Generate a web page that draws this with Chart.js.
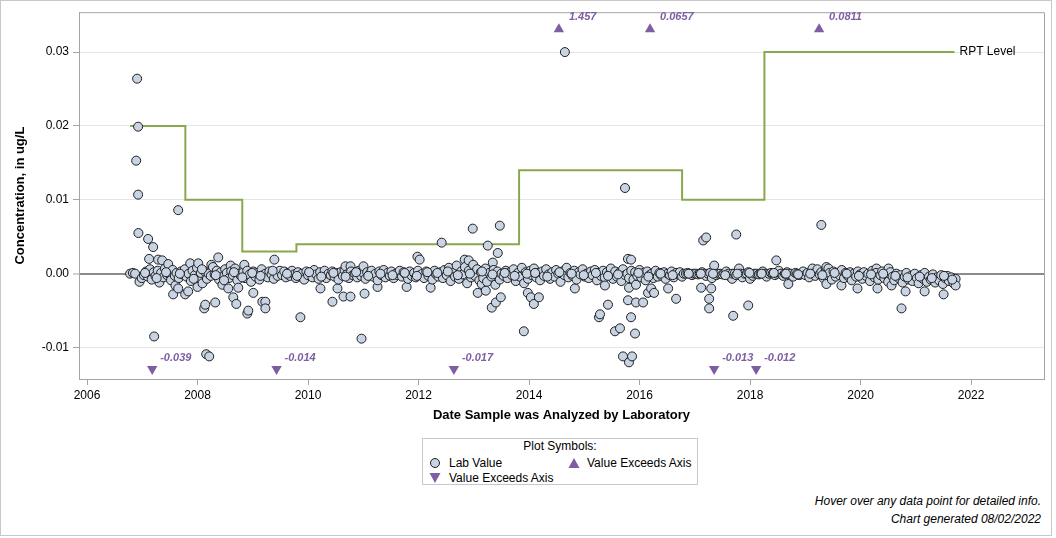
<!DOCTYPE html>
<html>
<head>
<meta charset="utf-8">
<script src="https://cdn.jsdelivr.net/npm/chart.js@4.4.1/dist/chart.umd.min.js"></script>
<style>
  html, body { margin: 0; padding: 0; background: #fff; }
  body { font-family: "Liberation Sans", Arial, sans-serif; color: #000; }
  #frame { position: relative; width: 1052px; height: 536px; border: 1px solid #c8c8c8; box-sizing: border-box; }
  #chart { position: absolute; left: 0; top: 0; }
  #legend { position: absolute; left: 421px; top: 437px; width: 276px; height: 47px; border: 1px solid #c8c8c8; box-sizing: border-box; font-size: 12px; }
  #legend .title { position: absolute; left: 0; right: 0; top: 0; line-height: 14px; text-align: center; }
  #legend .sym { position: absolute; }
  #legend .txt { position: absolute; line-height: 14px; white-space: nowrap; }
  #note { position: absolute; right: 10px; top: 491px; font-size: 12px; font-style: italic; line-height: 18px; text-align: right; }
</style>
</head>
<body>
<div id="frame">
  <canvas id="chart" width="1050" height="425"></canvas>
  <div id="legend">
    <div class="title">Plot Symbols:</div>
    <svg class="sym" style="left:6px;top:18px" width="12" height="12"><circle cx="6" cy="6" r="4.5" fill="#c8d4e4" stroke="#1e1e1e" stroke-width="1"/></svg>
    <span class="txt" style="left:26px;top:17px">Lab Value</span>
    <svg class="sym" style="left:145px;top:18px" width="12" height="12"><polygon points="6,1 11.5,11 0.5,11" fill="#7d5ea2"/></svg>
    <span class="txt" style="left:164px;top:17px">Value Exceeds Axis</span>
    <svg class="sym" style="left:6px;top:33px" width="12" height="12"><polygon points="0.5,1 11.5,1 6,11" fill="#7d5ea2"/></svg>
    <span class="txt" style="left:26px;top:32px">Value Exceeds Axis</span>
  </div>
  <div id="note">Hover over any data point for detailed info.<br>Chart generated 08/02/2022</div>
</div>
<script>
// lab values as [decimal year, concentration ug/L]
const labPoints2006to2009 = [
  [2006.78, 0.0000], [2006.83, 0.0001], [2006.87, 0.0000], [2006.89, 0.0153], [2006.907, 0.0264], [2006.925, 0.0199], [2006.925, 0.0107], [2006.93, 0.0055], [2006.95, -0.0011], [2006.99, -0.0006],
  [2007.03, -0.0002], [2007.07, 0.0003], [2007.10, -0.0004], [2007.106, 0.0047], [2007.124, 0.0020], [2007.14, 0.0006], [2007.17, -0.0008], [2007.197, 0.0036], [2007.21, 0.0002], [2007.215, -0.0085],
  [2007.24, -0.0003], [2007.28, 0.0004], [2007.287, 0.0019], [2007.31, -0.0012], [2007.34, 0.0001], [2007.36, 0.0018], [2007.38, -0.0005], [2007.41, 0.0007], [2007.45, -0.0002], [2007.47, 0.0013],
  [2007.48, 0.0000], [2007.52, -0.0009], [2007.55, 0.0005], [2007.559, -0.0028], [2007.59, -0.0003], [2007.60, -0.0016], [2007.62, 0.0001], [2007.65, 0.0086], [2007.65, -0.0020], [2007.66, -0.0006],
  [2007.70, 0.0003], [2007.73, -0.0001], [2007.77, 0.0006], [2007.777, -0.0028], [2007.80, -0.0004], [2007.831, -0.0024], [2007.84, 0.0000], [2007.868, 0.0014], [2007.88, -0.0010], [2007.91, 0.0004],
  [2007.95, -0.0002], [2007.99, 0.0008], [2008.00, -0.0018], [2008.013, 0.0014], [2008.02, -0.0005], [2008.06, 0.0001], [2008.09, -0.0013], [2008.121, -0.0047], [2008.13, 0.0003], [2008.14, -0.0042],
  [2008.158, -0.0109], [2008.17, -0.0007], [2008.20, 0.0000], [2008.212, -0.0112], [2008.24, -0.0003], [2008.25, 0.0012], [2008.28, 0.0009], [2008.31, -0.0001], [2008.321, -0.0039], [2008.35, 0.0004],
  [2008.375, 0.0022], [2008.39, -0.0008], [2008.42, 0.0002], [2008.45, -0.0015], [2008.46, -0.0004], [2008.50, 0.0006], [2008.53, 0.0001], [2008.557, -0.0020], [2008.57, -0.0006], [2008.60, 0.0011],
  [2008.61, 0.0003], [2008.64, -0.0002], [2008.647, -0.0032], [2008.68, 0.0007], [2008.702, -0.0041], [2008.72, -0.0009], [2008.738, -0.0019], [2008.75, 0.0000], [2008.79, -0.0003], [2008.83, 0.0002],
  [2008.847, 0.0012], [2008.86, -0.0006], [2008.90, 0.0004], [2008.901, -0.0054], [2008.919, -0.0050], [2008.94, -0.0001], [2008.97, -0.0011], [2009.01, 0.0003], [2009.01, -0.0026], [2009.05, -0.0004],
  [2009.08, 0.0001], [2009.12, -0.0008], [2009.16, 0.0006], [2009.173, -0.0038], [2009.19, -0.0002], [2009.228, -0.0038], [2009.228, -0.0047], [2009.23, 0.0000], [2009.27, -0.0005], [2009.30, 0.0003],
  [2009.34, -0.0001], [2009.38, -0.0007], [2009.391, 0.0019], [2009.42, 0.0002], [2009.45, -0.0003], [2009.49, 0.0004]
];
const labPoints2009to2012 = [
  [2009.53, -0.0002], [2009.57, 0.0003], [2009.60, -0.0005], [2009.64, 0.0001], [2009.67, -0.0003], [2009.71, 0.0004], [2009.75, -0.0001], [2009.78, -0.0006], [2009.82, 0.0002], [2009.86, -0.0004],
  [2009.862, -0.0059], [2009.89, 0.0000], [2009.93, -0.0008], [2009.97, 0.0003], [2010.00, -0.0002], [2010.04, 0.0001], [2010.08, -0.0005], [2010.11, 0.0005], [2010.15, -0.0001], [2010.19, -0.0007],
  [2010.22, 0.0002], [2010.225, -0.0020], [2010.26, -0.0003], [2010.30, 0.0004], [2010.33, -0.0006], [2010.37, 0.0000], [2010.41, -0.0002], [2010.44, 0.0003], [2010.442, -0.0038], [2010.48, -0.0004],
  [2010.52, 0.0001], [2010.533, -0.0020], [2010.55, -0.0008], [2010.59, 0.0002], [2010.63, -0.0003], [2010.642, -0.0031], [2010.66, 0.0005], [2010.678, 0.0010], [2010.70, -0.0001], [2010.74, -0.0006],
  [2010.769, 0.0010], [2010.769, -0.0031], [2010.78, 0.0003], [2010.81, -0.0002], [2010.85, 0.0000], [2010.89, -0.0005], [2010.92, 0.0004], [2010.96, -0.0003], [2010.968, -0.0088], [2011.00, 0.0001],
  [2011.004, 0.0010], [2011.023, -0.0027], [2011.04, -0.0007], [2011.07, 0.0002], [2011.11, -0.0001], [2011.15, 0.0004], [2011.18, -0.0004], [2011.22, 0.0000], [2011.258, -0.0018], [2011.26, -0.0009],
  [2011.29, 0.0003], [2011.33, -0.0002], [2011.37, 0.0005], [2011.40, -0.0005], [2011.44, 0.0001], [2011.48, -0.0003], [2011.51, 0.0003], [2011.55, -0.0006], [2011.59, 0.0000], [2011.62, -0.0002],
  [2011.66, 0.0004], [2011.70, -0.0004], [2011.73, 0.0002], [2011.77, -0.0001], [2011.784, -0.0018], [2011.81, -0.0007], [2011.84, 0.0003], [2011.88, -0.0003], [2011.92, 0.0001], [2011.95, -0.0005],
  [2011.98, 0.0023], [2011.99, 0.0004], [2012.02, 0.0019], [2012.03, -0.0002], [2012.07, 0.0000], [2012.10, -0.0006], [2012.14, 0.0003], [2012.18, -0.0003], [2012.21, 0.0001], [2012.219, -0.0019],
  [2012.25, -0.0008], [2012.29, 0.0004], [2012.32, -0.0001], [2012.36, -0.0004]
];
const labPoints2012to2014 = [
  [2012.40, 0.0002], [2012.419, 0.0042], [2012.44, -0.0006], [2012.47, 0.0005], [2012.51, -0.0002], [2012.55, 0.0008], [2012.58, -0.0010], [2012.62, 0.0001], [2012.66, -0.0004], [2012.69, 0.0011],
  [2012.73, -0.0007], [2012.77, 0.0003], [2012.80, -0.0001], [2012.836, 0.0019], [2012.84, 0.0009], [2012.88, -0.0013], [2012.908, 0.0018], [2012.91, 0.0004], [2012.95, -0.0005], [2012.981, 0.0061],
  [2012.99, 0.0012], [2013.02, -0.0003], [2013.06, 0.0006], [2013.072, -0.0026], [2013.10, -0.0009], [2013.13, 0.0002], [2013.144, -0.0014], [2013.17, -0.0006], [2013.21, 0.0007], [2013.217, -0.0023],
  [2013.24, -0.0011], [2013.253, 0.0038], [2013.28, 0.0001], [2013.32, -0.0004], [2013.325, -0.0046], [2013.344, 0.0015], [2013.36, 0.0005], [2013.39, -0.0015], [2013.40, -0.0039], [2013.43, 0.0003],
  [2013.434, 0.0028], [2013.47, -0.0008], [2013.471, 0.0065], [2013.489, -0.0032], [2013.50, 0.0000], [2013.54, -0.0003], [2013.58, 0.0004], [2013.61, -0.0006], [2013.65, 0.0002], [2013.69, -0.0002],
  [2013.72, 0.0006], [2013.76, -0.0010], [2013.80, 0.0001], [2013.83, -0.0004], [2013.87, 0.0008], [2013.906, -0.0078], [2013.91, -0.0013], [2013.94, 0.0002], [2013.978, -0.0026], [2013.98, -0.0007]
];
const labPoints2014to2016 = [
  [2014.02, 0.0004], [2014.033, -0.0032], [2014.05, -0.0002], [2014.087, -0.0041], [2014.09, 0.0007], [2014.13, -0.0005], [2014.16, 0.0001], [2014.178, -0.0032], [2014.20, -0.0009], [2014.24, 0.0003],
  [2014.27, -0.0003], [2014.31, 0.0006], [2014.35, -0.0001], [2014.38, -0.0007], [2014.42, 0.0002], [2014.46, -0.0004], [2014.49, 0.0005], [2014.53, 0.0000], [2014.57, -0.0011], [2014.60, 0.0003],
  [2014.64, -0.0002], [2014.649, 0.0300], [2014.68, 0.0008], [2014.71, -0.0005], [2014.75, 0.0001], [2014.79, -0.0003], [2014.82, 0.0004], [2014.83, -0.0020], [2014.86, -0.0008], [2014.90, 0.0002],
  [2014.93, -0.0001], [2014.97, 0.0006], [2015.01, -0.0004], [2015.04, 0.0000], [2015.08, -0.0006], [2015.12, 0.0003], [2015.15, -0.0002], [2015.19, 0.0005], [2015.23, -0.0009], [2015.26, 0.0001],
  [2015.266, -0.0059], [2015.284, -0.0055], [2015.30, -0.0003], [2015.34, 0.0004], [2015.37, -0.0005], [2015.374, -0.0016], [2015.41, 0.0002], [2015.429, -0.0042], [2015.45, -0.0001], [2015.48, 0.0007],
  [2015.52, -0.0007], [2015.556, -0.0078], [2015.56, 0.0003], [2015.59, -0.0004], [2015.63, 0.0001], [2015.646, -0.0074], [2015.67, -0.0010], [2015.70, 0.0006], [2015.70, -0.0112], [2015.737, 0.0116],
  [2015.74, -0.0002], [2015.78, 0.0000], [2015.79, 0.0020], [2015.791, -0.0036], [2015.809, -0.0019], [2015.809, -0.0120], [2015.81, -0.0006], [2015.846, 0.0019], [2015.846, -0.0059], [2015.85, 0.0004],
  [2015.864, -0.0112], [2015.89, -0.0008], [2015.918, -0.0081], [2015.92, 0.0002], [2015.936, -0.0015], [2015.936, -0.0039], [2015.96, -0.0003], [2016.00, 0.0005], [2016.03, -0.0005], [2016.064, -0.0039],
  [2016.07, 0.0001], [2016.11, -0.0009], [2016.14, 0.0003], [2016.154, -0.0026], [2016.18, -0.0002], [2016.209, -0.0020], [2016.22, 0.0000], [2016.25, -0.0006], [2016.263, -0.0026], [2016.29, 0.0004],
  [2016.33, -0.0004], [2016.36, 0.0001], [2016.40, -0.0003], [2016.44, 0.0002], [2016.47, -0.0007], [2016.51, 0.0000], [2016.517, -0.0020], [2016.55, -0.0002], [2016.58, 0.0003], [2016.62, -0.0005],
  [2016.66, 0.0001], [2016.662, -0.0034], [2016.69, -0.0001], [2016.73, 0.0002], [2016.77, -0.0004]
];
const labPoints2016to2018 = [
  [2016.80, 0.0000], [2016.84, 0.0000], [2016.87, 0.0001], [2016.91, 0.0000], [2016.95, -0.0002], [2016.98, 0.0000], [2017.02, 0.0000], [2017.06, -0.0001], [2017.09, 0.0000], [2017.115, -0.0019],
  [2017.13, 0.0002], [2017.152, 0.0045], [2017.17, 0.0000], [2017.20, -0.0003], [2017.206, 0.0049], [2017.24, 0.0000], [2017.26, -0.0034], [2017.26, -0.0047], [2017.28, 0.0001], [2017.297, -0.0020],
  [2017.31, -0.0006], [2017.35, 0.0000], [2017.351, 0.0011], [2017.39, -0.0002], [2017.42, 0.0000], [2017.46, 0.0000], [2017.50, -0.0001], [2017.53, 0.0000], [2017.57, 0.0003], [2017.61, 0.0000],
  [2017.64, -0.0004], [2017.677, -0.0007], [2017.68, 0.0000], [2017.695, -0.0057], [2017.72, 0.0000], [2017.75, 0.0053], [2017.75, -0.0002], [2017.79, 0.0001], [2017.80, 0.0007], [2017.83, 0.0000],
  [2017.86, -0.0005], [2017.90, 0.0000], [2017.94, 0.0000], [2017.967, -0.0043], [2017.97, 0.0002], [2018.00, -0.0007], [2018.01, 0.0000], [2018.05, -0.0003], [2018.08, 0.0000], [2018.12, 0.0000],
  [2018.16, -0.0001], [2018.19, 0.0000], [2018.23, 0.0003], [2018.27, 0.0000], [2018.30, -0.0004], [2018.34, 0.0000], [2018.38, 0.0001], [2018.41, 0.0000], [2018.45, -0.0002], [2018.475, 0.0018],
  [2018.49, 0.0000], [2018.52, 0.0004], [2018.56, 0.0000], [2018.60, -0.0003], [2018.63, 0.0000], [2018.67, 0.0002], [2018.693, -0.0014], [2018.71, -0.0001], [2018.74, 0.0000], [2018.78, -0.0004],
  [2018.82, 0.0001], [2018.85, 0.0000], [2018.89, -0.0002], [2018.93, 0.0000], [2018.96, 0.0003]
];
const labPoints2019to2021 = [
  [2019.00, -0.0002], [2019.04, 0.0001], [2019.07, -0.0005], [2019.11, 0.0003], [2019.13, 0.0007], [2019.15, 0.0000], [2019.18, -0.0003], [2019.22, 0.0006], [2019.26, -0.0001], [2019.29, 0.0066],
  [2019.29, 0.0002], [2019.33, -0.0006], [2019.37, 0.0004], [2019.382, 0.0009], [2019.382, -0.0014], [2019.40, -0.0002], [2019.418, 0.0007], [2019.44, 0.0001], [2019.48, -0.0008], [2019.51, 0.0003],
  [2019.55, -0.0004], [2019.59, 0.0000], [2019.62, -0.0002], [2019.654, -0.0016], [2019.66, 0.0005], [2019.70, -0.0006], [2019.73, 0.0001], [2019.77, -0.0003], [2019.81, 0.0002], [2019.84, -0.0009],
  [2019.88, 0.0000], [2019.92, -0.0004], [2019.944, -0.0020], [2019.95, 0.0003], [2019.99, -0.0001], [2020.03, -0.0007], [2020.06, 0.0002], [2020.10, -0.0003], [2020.14, 0.0000], [2020.17, -0.0010],
  [2020.21, 0.0004], [2020.25, -0.0005], [2020.288, 0.0007], [2020.28, 0.0001], [2020.306, -0.0020], [2020.32, -0.0008], [2020.36, -0.0002], [2020.39, 0.0003], [2020.43, -0.0006], [2020.47, -0.0001],
  [2020.50, -0.0011], [2020.506, 0.0007], [2020.54, 0.0002], [2020.56, -0.0016], [2020.58, -0.0004], [2020.61, -0.0009], [2020.65, 0.0000], [2020.69, -0.0006], [2020.72, -0.0002], [2020.741, -0.0047],
  [2020.76, -0.0012], [2020.80, -0.0004], [2020.814, -0.0024], [2020.83, 0.0001], [2020.87, -0.0008], [2020.91, -0.0003], [2020.94, -0.0010], [2020.98, 0.0000], [2021.02, -0.0006], [2021.05, -0.0013],
  [2021.09, -0.0002], [2021.13, -0.0007], [2021.159, -0.0024], [2021.16, 0.0001], [2021.20, -0.0011], [2021.24, -0.0004], [2021.27, -0.0008], [2021.31, -0.0001], [2021.35, -0.0012], [2021.38, -0.0005],
  [2021.42, -0.0009], [2021.46, -0.0002], [2021.49, -0.0014], [2021.503, -0.0028], [2021.53, -0.0006], [2021.57, -0.0003], [2021.60, -0.0010], [2021.64, -0.0005], [2021.68, -0.0013], [2021.72, -0.0007], [2021.721, -0.0016]
];
// repeat analyses run close to the others
const labPointsRepeats = [
  [2007.05, 0.0001], [2007.26, -0.0006], [2007.43, 0.0002], [2007.68, 0.0000], [2007.93, -0.0007], [2008.08, 0.0006], [2008.33, -0.0002], [2008.48, -0.0009], [2008.66, 0.0002], [2008.81, -0.0005],
  [2008.99, 0.0001], [2009.14, -0.0003], [2009.36, 0.0004], [2009.62, 0.0000], [2009.80, -0.0003], [2010.02, 0.0002], [2010.24, -0.0004], [2010.46, 0.0001], [2010.68, -0.0004], [2010.87, 0.0002],
  [2011.09, -0.0003], [2011.31, 0.0000], [2011.53, -0.0002], [2011.75, 0.0001], [2011.97, -0.0003], [2012.16, 0.0002], [2012.34, 0.0001], [2012.53, 0.0003], [2012.71, -0.0002], [2012.93, 0.0000],
  [2013.15, 0.0003], [2013.34, -0.0001], [2013.56, 0.0001], [2013.74, -0.0003], [2013.96, 0.0000], [2014.11, 0.0001], [2014.33, -0.0004], [2014.55, 0.0002], [2014.77, 0.0000], [2014.99, -0.0002],
  [2015.21, 0.0001], [2015.43, -0.0003], [2015.61, -0.0001], [2015.98, 0.0001], [2016.16, -0.0004], [2016.38, 0.0000], [2016.60, -0.0002], [2016.89, 0.0000], [2017.11, 0.0000], [2017.33, 0.0000],
  [2017.55, -0.0002], [2017.77, 0.0000], [2017.99, 0.0001], [2018.21, 0.0000], [2018.43, 0.0001], [2018.65, 0.0000], [2018.87, -0.0001], [2019.09, 0.0000], [2019.31, -0.0002], [2019.53, 0.0001],
  [2019.75, 0.0000], [2019.97, -0.0003], [2020.19, -0.0001], [2020.41, 0.0000], [2020.63, -0.0003], [2020.85, -0.0005], [2021.07, -0.0004], [2021.29, -0.0006], [2021.51, -0.0003], [2021.66, -0.0008]
];

// reporting level steps
const rptDates = [2006.78, 2007.78, 2008.81, 2009.79, 2013.82, 2016.77, 2018.26, 2021.70];
const rptLevels = [0.02, 0.01, 0.003, 0.004, 0.014, 0.01, 0.03, 0.03];

// values off the axis
const aboveDates = [2014.54, 2016.19, 2019.25];
const aboveLabels = ['1.457', '0.0657', '0.0811'];
const belowDates = [2007.18, 2009.43, 2012.64, 2017.35, 2018.11];
const belowLabels = ['-0.039', '-0.014', '-0.017', '-0.013', '-0.012'];

const yTicks = [-0.01, 0, 0.01, 0.02, 0.03];
const xTicks = [2006, 2008, 2010, 2012, 2014, 2016, 2018, 2020, 2022];

const X_MIN = 2005.855, X_MAX = 2023.32;
const Y_MIN = -0.01426, Y_MAX = 0.0354;
const ABOVE_LEVEL = 0.0331, BELOW_LEVEL = -0.0129;

const FONT = '"Liberation Sans", Arial, sans-serif';
const PURPLE = '#7d5ea2';
const GREEN = '#89a74c';
const FRAME = '#a5a5a5';

const labPoints = [].concat(labPoints2006to2009, labPoints2009to2012, labPoints2012to2014,
  labPoints2014to2016, labPoints2016to2018, labPoints2019to2021, labPointsRepeats);

const labelPlugin = {
  id: 'labelPlugin',
  afterDraw: function (chart) {
    const ctx = chart.ctx;
    const a = chart.chartArea;
    ctx.save();
    // top and right edges of the plot frame
    ctx.strokeStyle = FRAME;
    ctx.lineWidth = 1;
    ctx.beginPath();
    ctx.moveTo(a.left, a.top + 0.5);
    ctx.lineTo(a.right + 0.5, a.top + 0.5);
    ctx.lineTo(a.right + 0.5, a.bottom);
    ctx.stroke();

    ctx.font = 'italic bold 11px ' + FONT;
    ctx.fillStyle = PURPLE;
    ctx.textBaseline = 'middle';
    chart.getDatasetMeta(2).data.forEach(function (pt, i) {
      ctx.fillText(aboveLabels[i], pt.x + 10, pt.y - 12);
    });
    chart.getDatasetMeta(3).data.forEach(function (pt, i) {
      ctx.fillText(belowLabels[i], pt.x + 8, pt.y - 11);
    });

    const rpt = chart.getDatasetMeta(1).data;
    const last = rpt[rpt.length - 1];
    ctx.font = '12px ' + FONT;
    ctx.fillStyle = '#000';
    ctx.fillText('RPT Level', last.x + 5, last.y);
    ctx.restore();
  }
};

function isZero(v) { return Math.abs(v) < 1e-9; }

new Chart(document.getElementById('chart'), {
  type: 'scatter',
  data: {
    datasets: [{
      label: 'Lab Value',
      data: labPoints.map(function (p) { return { x: p[0], y: p[1] }; }),
      pointRadius: 4.5,
      pointHoverRadius: 5.5,
      backgroundColor: '#c8d4e4',
      borderColor: '#1e1e1e',
      borderWidth: 1,
      order: 1
    }, {
      label: 'RPT Level',
      data: rptDates.map(function (d, i) { return { x: d, y: rptLevels[i] }; }),
      showLine: true,
      stepped: 'before',
      borderColor: GREEN,
      borderWidth: 2,
      pointRadius: 0,
      pointHoverRadius: 0,
      fill: false,
      order: 3
    }, {
      label: 'Value Exceeds Axis',
      data: aboveDates.map(function (d) { return { x: d, y: ABOVE_LEVEL }; }),
      pointStyle: 'triangle',
      pointRadius: 6,
      backgroundColor: PURPLE,
      borderColor: PURPLE,
      borderWidth: 0,
      order: 0
    }, {
      label: 'Value Exceeds Axis',
      data: belowDates.map(function (d) { return { x: d, y: BELOW_LEVEL }; }),
      pointStyle: 'triangle',
      rotation: 180,
      pointRadius: 6,
      backgroundColor: PURPLE,
      borderColor: PURPLE,
      borderWidth: 0,
      order: 0
    }]
  },
  options: {
    responsive: false,
    animation: false,
    layout: { padding: { top: 11, right: 7, left: 0, bottom: 0 } },
    plugins: {
      legend: { display: false },
      tooltip: {
        callbacks: {
          label: function (context) {
            return context.parsed.x.toFixed(2) + ': ' + context.parsed.y.toFixed(4) + ' ug/L';
          }
        }
      }
    },
    scales: {
      x: {
        type: 'linear',
        min: X_MIN,
        max: X_MAX,
        afterFit: function (s) { s.height = 47; },
        afterBuildTicks: function (s) { s.ticks = xTicks.map(function (v) { return { value: v }; }); },
        border: { color: FRAME, width: 1 },
        grid: { drawOnChartArea: false, tickLength: 6, tickColor: FRAME },
        ticks: {
          color: '#000',
          padding: 3,
          maxRotation: 0,
          autoSkip: false,
          font: { family: FONT, size: 12 },
          callback: function (v) { return String(Math.round(v)); }
        },
        title: {
          display: true,
          text: 'Date Sample was Analyzed by Laboratory',
          color: '#000',
          font: { family: FONT, size: 13, weight: 'bold' },
          padding: { top: 0, bottom: 3 }
        }
      },
      y: {
        min: Y_MIN,
        max: Y_MAX,
        afterFit: function (s) { s.width = 78; },
        afterBuildTicks: function (s) { s.ticks = yTicks.map(function (v) { return { value: v }; }); },
        border: { color: FRAME, width: 1 },
        grid: {
          color: function (ctx) { return ctx.tick && isZero(ctx.tick.value) ? '#8a8a8a' : '#e6e6e6'; },
          lineWidth: function (ctx) { return ctx.tick && isZero(ctx.tick.value) ? 2 : 1; },
          tickLength: 6,
          tickColor: FRAME,
          tickWidth: 1
        },
        ticks: {
          color: '#000',
          padding: 4,
          font: { family: FONT, size: 12 },
          callback: function (v) { return (Math.round(v * 100) / 100).toFixed(2); }
        },
        title: {
          display: true,
          text: 'Concentration, in ug/L',
          color: '#000',
          font: { family: FONT, size: 13, weight: 'bold' },
          padding: { top: 12, bottom: 0 }
        }
      }
    }
  },
  plugins: [labelPlugin]
});
</script>
</body>
</html>
